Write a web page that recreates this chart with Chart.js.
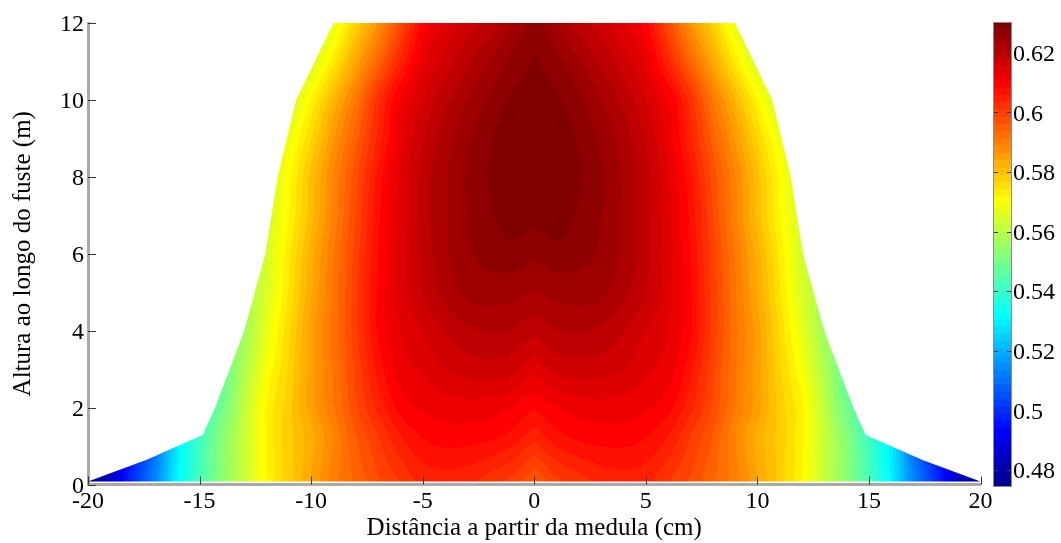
<!DOCTYPE html>
<html>
<head>
<meta charset="utf-8">
<style>
  html, body { margin: 0; background: #fff; overflow: hidden; }
  #campo { position: absolute; left: 0; top: 0; }
  #barra { position: absolute; left: 960px; top: 0; }
</style>
<script src="https://cdn.jsdelivr.net/npm/chart.js@4"></script>
</head>
<body>
<canvas id="campo" width="1061" height="543"></canvas>
<canvas id="barra" width="101" height="543"></canvas>
<script>
const xTicks = [-20, -15, -10, -5, 0, 5, 10, 15, 20];
const yTicks = [0, 2, 4, 6, 8, 10, 12];
const barTicks = [0.48, 0.5, 0.52, 0.54, 0.56, 0.58, 0.6, 0.62];
const barMin = 0.4746;
const barMax = 0.63;
const nLevels = 64;

// contorno do tronco (metade, o outro lado e o espelho)
const stemRadius = [20, 17.4, 14.86, 14.3, 13, 12.05, 11.5, 10.67, 9];
const stemHeight = [0.08, 0.64, 1.285, 2, 4, 6, 8, 10, 12];

// valores, cada linha e uma altura, colunas em x = 0, 1, 2, ... cm
const heights = [0.1, 1.3, 2, 3, 4, 5, 6, 7, 8, 9, 10, 11, 12];
const rowH01 = [.596, .6, .602, .604, .6045, .604, .601, .598, .594, .59, .584, .578, .5717, .562, .553, .542, .53, .513, .5, .485, .4765];
const rowH13 = [.6045, .6075, .609, .6095, .6095, .6085, .6058, .601, .596, .589, .583, .578, .572, .562, .552, .541, .53, .513, .5, .485, .476];
const rowH2 = [.6083, .6105, .6117, .612, .6118, .611, .609, .604, .598, .591, .585, .578, .572, .561, .549, .54];
const rowH3 = [.6136, .6162, .6168, .6165, .6155, .6135, .6118, .6065, .599, .5915, .585, .577, .5695, .5585, .547];
const rowH4 = [.6185, .6202, .6205, .6198, .618, .6155, .613, .6085, .6, .592, .585, .576, .567, .556];
const rowH5 = [.6225, .6235, .6238, .6234, .621, .618, .614, .6085, .6, .5915, .5835, .5745, .565, .557];
const rowH6 = [.6258, .6266, .626, .6247, .6222, .6186, .6142, .608, .5995, .591, .5825, .5735, .564];
const rowH7 = [.6284, .629, .6272, .6252, .6224, .6188, .6138, .6075, .5985, .5895, .5805, .5717, .564];
const rowH8 = [.63, .63, .6278, .6255, .6224, .6188, .6136, .6065, .5975, .589, .58, .571, .563];
const rowH9 = [.63, .6295, .6272, .6246, .6215, .6176, .6122, .604, .595, .586, .5765, .568];
const rowH10 = [.6288, .628, .6257, .6228, .6197, .6155, .6106, .602, .591, .5815, .5717, .563];
const rowH11 = [.6279, .626, .623, .6198, .6165, .6125, .604, .594, .584, .5735, .564];
const rowH12 = [.6265, .6228, .619, .6166, .6135, .609, .598, .587, .577, .567, .56];
const rows = [rowH01, rowH13, rowH2, rowH3, rowH4, rowH5, rowH6, rowH7, rowH8, rowH9, rowH10, rowH11, rowH12];

const fontName = '"Liberation Serif", "Times New Roman", serif';
const axisGray = '#a9a9a9';
const tickColor = '#333';

function jet(i) {
  const t = (i + 1) / nLevels;
  const c = v => Math.round(255 * Math.max(0, Math.min(1, v)));
  return [c(1.5 - Math.abs(4 * t - 3)), c(1.5 - Math.abs(4 * t - 2)), c(1.5 - Math.abs(4 * t - 1))];
}

function levelOf(v) {
  return Math.max(0, Math.min(nLevels - 1, Math.floor((v - barMin) / (barMax - barMin) * nLevels)));
}

function hermite(a, b, ma, mb, d, f) {
  const f2 = f * f, f3 = f2 * f;
  return (2 * f3 - 3 * f2 + 1) * a + (f3 - 2 * f2 + f) * d * ma + (-2 * f3 + 3 * f2) * b + (f3 - f2) * d * mb;
}

function rowValue(row, x) {
  const n = row.length;
  if (x >= n - 1) return row[n - 1];
  const i = Math.floor(x);
  const v = k => row[Math.max(0, Math.min(n - 1, k))];
  // em x = 0 fica o bico, a tangente e so de um lado
  const ma = i === 0 ? v(1) - v(0) : (v(i + 1) - v(i - 1)) / 2;
  const mb = (v(i + 2) - v(i)) / (i + 2 > n - 1 ? 1 : 2);
  return hermite(v(i), v(i + 1), ma, mb, 1, x - i);
}

function valueAt(x, y) {
  const n = heights.length;
  let j = 0;
  while (j < n - 2 && y > heights[j + 1]) j++;
  const f = Math.max(0, Math.min(1, (y - heights[j]) / (heights[j + 1] - heights[j])));
  const ax = Math.abs(x);
  const a = rowValue(rows[j], ax), b = rowValue(rows[j + 1], ax);
  const prev = j > 0 ? rowValue(rows[j - 1], ax) : a;
  const next = j < n - 2 ? rowValue(rows[j + 2], ax) : b;
  const ma = j > 0 ? (b - prev) / (heights[j + 1] - heights[j - 1]) : (b - a) / (heights[j + 1] - heights[j]);
  const mb = j < n - 2 ? (next - a) / (heights[j + 2] - heights[j]) : (b - a) / (heights[j + 1] - heights[j]);
  return hermite(a, b, ma, mb, heights[j + 1] - heights[j], f);
}

// pinta o campo por pixel, dentro do contorno do dataset
const fieldPlugin = {
  id: 'field',
  beforeDatasetsDraw(chart) {
    const { ctx, chartArea: a, scales: { x: sx, y: sy } } = chart;
    const w = Math.ceil(a.right - a.left), h = Math.ceil(a.bottom - a.top);
    const off = document.createElement('canvas');
    off.width = w; off.height = h;
    const octx = off.getContext('2d');
    const img = octx.createImageData(w, h);
    for (let py = 0; py < h; py++) {
      const y = sy.getValueForPixel(a.top + py + 0.5);
      for (let px = 0; px < w; px++) {
        const col = jet(levelOf(valueAt(sx.getValueForPixel(a.left + px + 0.5), y)));
        const k = (py * w + px) * 4;
        img.data[k] = col[0]; img.data[k + 1] = col[1]; img.data[k + 2] = col[2]; img.data[k + 3] = 255;
      }
    }
    octx.putImageData(img, 0, 0);
    ctx.save();
    ctx.beginPath();
    chart.data.datasets[0].data.forEach((p, i) => {
      const X = sx.getPixelForValue(p.x), Y = sy.getPixelForValue(p.y);
      if (i === 0) ctx.moveTo(X, Y); else ctx.lineTo(X, Y);
    });
    ctx.closePath();
    ctx.clip();
    ctx.drawImage(off, a.left, a.top);
    ctx.restore();
  }
};

// ticks para dentro, como no matlab
const inTicksPlugin = {
  id: 'inTicks',
  beforeDatasetsDraw(chart) {
    const { ctx, chartArea: a, scales: { x: sx, y: sy } } = chart;
    ctx.save();
    ctx.strokeStyle = tickColor;
    ctx.lineWidth = 1;
    ctx.beginPath();
    sy.ticks.forEach(t => {
      const Y = Math.round(sy.getPixelForValue(t.value)) + 0.5;
      ctx.moveTo(a.left, Y); ctx.lineTo(a.left + 8, Y);
    });
    sx.ticks.forEach(t => {
      const X = Math.round(sx.getPixelForValue(t.value)) + 0.5;
      ctx.moveTo(X, a.bottom); ctx.lineTo(X, a.bottom - 8);
    });
    ctx.stroke();
    ctx.restore();
  }
};

const outline = [];
stemRadius.forEach((r, i) => outline.push({ x: -r, y: stemHeight[i] }));
for (let i = stemRadius.length - 1; i >= 0; i--) outline.push({ x: stemRadius[i], y: stemHeight[i] });

new Chart(document.getElementById('campo'), {
  type: 'scatter',
  data: {
    datasets: [{
      label: 'contorno',
      data: outline,
      showLine: true,
      borderColor: 'transparent',
      pointRadius: 0
    }]
  },
  options: {
    responsive: false,
    animation: false,
    layout: { padding: { top: 23, right: 80.5, left: 0, bottom: 0 } },
    plugins: { legend: { display: false }, tooltip: { enabled: false } },
    scales: {
      x: {
        type: 'linear',
        min: -20,
        max: 20,
        afterBuildTicks: s => { s.ticks = xTicks.map(v => ({ value: v })); },
        afterFit: s => { s.height = 58.5; },
        grid: { drawOnChartArea: false, drawTicks: false },
        border: { color: axisGray, width: 3 },
        ticks: { color: '#000', font: { family: fontName, size: 24 }, padding: 3, maxRotation: 0, autoSkip: false },
        title: { display: true, text: 'Distância a partir da medula (cm)', color: '#000', font: { family: fontName, size: 25 }, padding: { top: 0, bottom: 0 } }
      },
      y: {
        min: 0,
        max: 12,
        afterBuildTicks: s => { s.ticks = yTicks.map(v => ({ value: v })); },
        afterFit: s => { s.width = 88; },
        grid: { drawOnChartArea: false, drawTicks: false },
        border: { color: axisGray, width: 3 },
        ticks: { color: '#000', font: { family: fontName, size: 24 }, padding: 4, labelOffset: 2, autoSkip: false },
        title: { display: true, text: 'Altura ao longo do fuste (m)', color: '#000', font: { family: fontName, size: 25 }, padding: { top: 8, bottom: 0 } }
      }
    }
  },
  plugins: [fieldPlugin, inTicksPlugin]
});

// barra de cores, uma barra flutuante por nivel
const barStep = (barMax - barMin) / nLevels;
const barSets = [];
for (let i = 0; i < nLevels; i++) {
  const c = jet(i);
  barSets.push({
    data: [[barMin + i * barStep, barMin + (i + 1) * barStep]],
    backgroundColor: 'rgb(' + c.join(',') + ')',
    borderWidth: 0,
    barPercentage: 1,
    categoryPercentage: 1,
    grouped: false
  });
}

const barFrame = {
  id: 'barFrame',
  afterDatasetsDraw(chart) {
    const { ctx, chartArea: a, scales: { y } } = chart;
    ctx.save();
    ctx.strokeStyle = tickColor;
    ctx.lineWidth = 1;
    ctx.beginPath();
    y.ticks.forEach(t => {
      const Y = Math.round(y.getPixelForValue(t.value)) + 0.5;
      ctx.moveTo(a.left, Y); ctx.lineTo(a.left + 4, Y);
      ctx.moveTo(a.right, Y); ctx.lineTo(a.right - 4, Y);
    });
    ctx.stroke();
    ctx.strokeStyle = '#8c8c8c';
    ctx.strokeRect(a.left - 0.5, a.top - 0.5, a.right - a.left + 1, a.bottom - a.top + 1);
    ctx.restore();
  }
};

new Chart(document.getElementById('barra'), {
  type: 'bar',
  data: { labels: [''], datasets: barSets },
  options: {
    responsive: false,
    animation: false,
    layout: { padding: { left: 34, top: 23, bottom: 57, right: 0 } },
    plugins: { legend: { display: false }, tooltip: { enabled: false } },
    scales: {
      x: { display: false },
      y: {
        position: 'right',
        min: barMin,
        max: barMax,
        afterBuildTicks: s => { s.ticks = barTicks.map(v => ({ value: v })); },
        afterFit: s => { s.width = 50; },
        grid: { drawOnChartArea: false, drawTicks: false },
        border: { display: false },
        ticks: { color: '#000', font: { family: fontName, size: 24 }, padding: 2, labelOffset: 2, autoSkip: false, callback: v => String(v) }
      }
    }
  },
  plugins: [barFrame]
});
</script>
</body>
</html>
